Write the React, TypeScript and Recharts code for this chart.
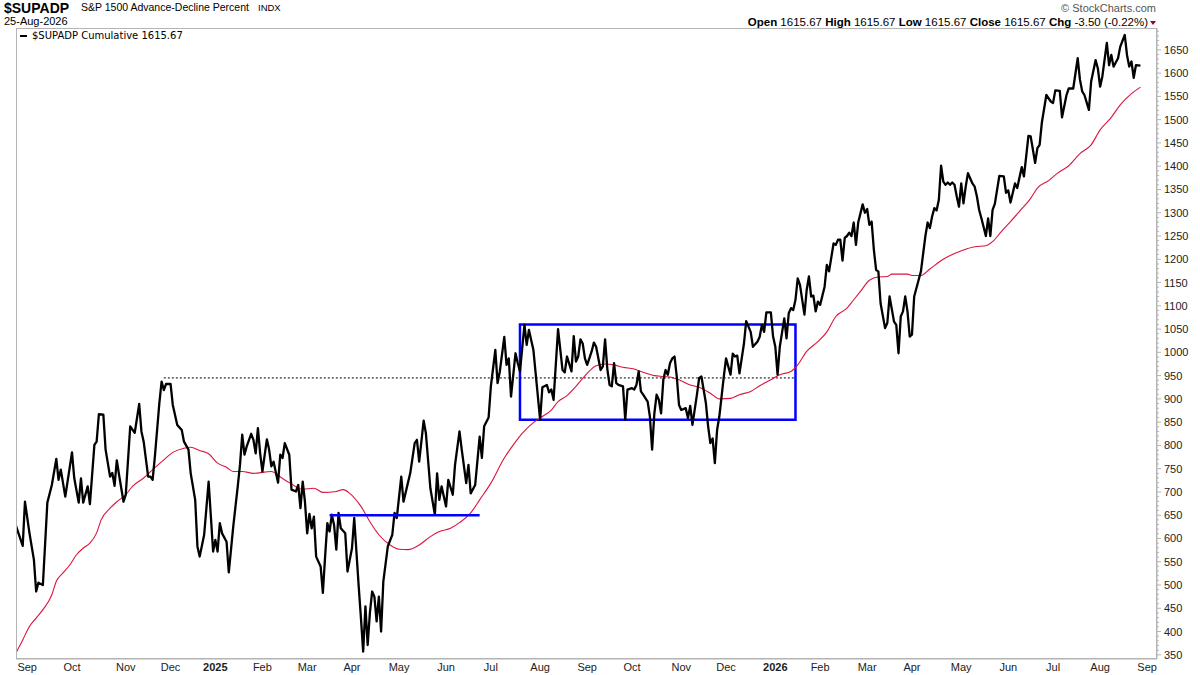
import React from 'react'
import { LineChart, Line, XAxis, YAxis, ReferenceArea, ReferenceLine } from 'recharts'

// trading-day index (0 = 23-Aug-2024) and cumulative A-D percent value
const cumulativePoints: [number, number][] = [
    [0, 627], [3, 584], [4, 679], [6, 612], [8, 554], [9, 486], [10, 505], [12, 500], [14, 677], [16, 715],
    [18, 771], [19, 726], [20, 748], [22, 690], [25, 785], [26, 730], [28, 677], [29, 729], [30, 677], [32, 712],
    [33, 674], [35, 801], [36, 808], [37, 867], [39, 866], [40, 791], [42, 733], [43, 741], [44, 713], [45, 768],
    [46, 737], [48, 679], [49, 694], [51, 841], [53, 827], [55, 889], [56, 830], [57, 808], [59, 733], [60, 733],
    [61, 726], [62, 776], [64, 891], [65, 937], [66, 919], [67, 932], [69, 932], [70, 887], [72, 844], [74, 833],
    [75, 808], [77, 791], [78, 740], [80, 683], [81, 583], [82, 561], [84, 608], [86, 722], [88, 572], [89, 597],
    [90, 572], [91, 633], [92, 611], [94, 593], [95, 527], [97, 626], [99, 712], [100, 758], [101, 823], [102, 780],
    [103, 798], [105, 825], [106, 812], [107, 783], [108, 837], [109, 783], [110, 744], [112, 813], [113, 791], [114, 755],
    [115, 765], [117, 720], [118, 780], [119, 773], [120, 805], [122, 780], [123, 705], [125, 701], [126, 715], [127, 665],
    [128, 722], [129, 679], [130, 611], [131, 653], [132, 622], [133, 647], [134, 561], [136, 540], [137, 483], [138, 561],
    [139, 633], [140, 615], [141, 651], [142, 629], [143, 576], [144, 655], [145, 622], [147, 611], [148, 529], [149, 554],
    [150, 579], [151, 644], [153, 497], [154, 429], [155, 357], [156, 454], [157, 371], [158, 440], [159, 486], [160, 475],
    [161, 422], [162, 475], [163, 400], [164, 508], [166, 583], [168, 608], [169, 655], [170, 644], [172, 733], [173, 679],
    [175, 720], [176, 740], [178, 805], [179, 812], [180, 765], [182, 853], [183, 826], [185, 708], [187, 651], [188, 740],
    [189, 683], [190, 712], [191, 690], [192, 669], [193, 726], [195, 694], [196, 758], [198, 830], [199, 791], [201, 719],
    [202, 758], [203, 697], [205, 715], [207, 819], [208, 773], [209, 841], [211, 860], [212, 927], [214, 1005], [215, 934],
    [216, 959], [218, 1033], [219, 973], [220, 987], [221, 905], [223, 998], [224, 977], [225, 959], [227, 1059], [228, 1016],
    [229, 1048], [231, 1005], [232, 955], [234, 855], [235, 925], [237, 930], [238, 914], [239, 920], [240, 898], [242, 1050],
    [244, 962], [245, 957], [246, 991], [248, 959], [249, 1035], [250, 980], [251, 991], [252, 1028], [253, 1019], [254, 987],
    [255, 973], [257, 1002], [258, 1021], [259, 1012], [261, 962], [262, 970], [263, 1028], [264, 964], [265, 930], [266, 927],
    [267, 977], [268, 934], [269, 930], [271, 927], [272, 855], [273, 920], [275, 923], [276, 920], [277, 930], [278, 959],
    [279, 916], [280, 909], [282, 894], [283, 862], [284, 791], [285, 869], [286, 909], [287, 898], [288, 869], [289, 941],
    [290, 962], [291, 952], [292, 977], [293, 987], [294, 991], [295, 948], [296, 887], [297, 876], [299, 880], [300, 859],
    [301, 885], [302, 844], [304, 909], [305, 945], [306, 948], [308, 891], [309, 841], [310, 805], [311, 815], [312, 762],
    [313, 833], [314, 862], [316, 948], [317, 987], [319, 952], [320, 997], [321, 991], [322, 993], [323, 955], [325, 1019],
    [326, 1067], [328, 1044], [329, 1012], [331, 1023], [332, 1033], [333, 1059], [334, 1044], [335, 1086], [337, 1086], [338, 1034],
    [339, 1012], [340, 952], [341, 1012], [343, 1073], [344, 1030], [345, 1084], [346, 1095], [347, 1091], [348, 1113], [349, 1159],
    [350, 1145], [352, 1081], [353, 1134], [354, 1163], [355, 1120], [356, 1122], [357, 1088], [358, 1109], [359, 1102], [361, 1141],
    [362, 1188], [363, 1174], [365, 1234], [366, 1231], [367, 1242], [368, 1242], [369, 1197], [370, 1246], [371, 1250], [372, 1257],
    [373, 1250], [374, 1279], [375, 1231], [376, 1279], [378, 1318], [379, 1300], [380, 1308], [381, 1274], [382, 1281], [383, 1220],
    [384, 1177], [385, 1174], [386, 1105], [388, 1052], [389, 1063], [390, 1120], [392, 1066], [393, 1059], [394, 998], [395, 1077],
    [396, 1088], [397, 1120], [398, 1088], [399, 1034], [400, 1038], [401, 1120], [403, 1156], [404, 1174], [406, 1250], [407, 1279],
    [408, 1267], [409, 1292], [410, 1310], [411, 1305], [412, 1328], [413, 1401], [414, 1367], [415, 1360], [416, 1365], [417, 1360],
    [418, 1365], [419, 1360], [420, 1335], [421, 1313], [422, 1363], [423, 1320], [424, 1356], [425, 1385], [427, 1363], [428, 1356],
    [429, 1335], [430, 1306], [431, 1288], [433, 1250], [434, 1288], [435, 1250], [436, 1306], [437, 1319], [439, 1379], [441, 1378],
    [442, 1343], [443, 1348], [444, 1322], [446, 1363], [447, 1353], [449, 1398], [450, 1378], [451, 1421], [452, 1465], [453, 1464],
    [455, 1407], [456, 1439], [457, 1446], [458, 1494], [460, 1553], [462, 1539], [463, 1536], [464, 1563], [466, 1562], [467, 1505],
    [469, 1553], [470, 1567], [472, 1567], [474, 1632], [475, 1586], [476, 1561], [477, 1553], [479, 1521], [480, 1582], [482, 1628],
    [483, 1610], [484, 1571], [485, 1593], [487, 1665], [488, 1617], [489, 1639], [490, 1614], [492, 1632], [493, 1657], [495, 1682],
    [496, 1639], [497, 1614], [498, 1625], [499, 1590], [500, 1617], [502, 1616],
]

// moving average overlay
const averagePoints: [number, number][] = [
    [0, 354], [3, 382], [6, 411], [9, 429], [12, 447], [16, 479], [18, 508], [21, 526], [24, 543], [27, 565],
    [30, 579], [33, 590], [36, 612], [38, 640], [42, 665], [45, 679], [49, 694], [52, 712], [57, 730], [61, 748],
    [66, 769], [70, 785], [75, 794], [78, 796], [82, 789], [86, 782], [90, 762], [94, 753], [97, 744], [101, 744],
    [106, 740], [114, 744], [118, 732], [122, 720], [128, 706], [133, 708], [137, 699], [143, 701], [146, 705], [149, 697],
    [154, 669], [158, 636], [162, 608], [167, 586], [171, 577], [175, 576], [180, 586], [185, 604], [189, 615], [194, 622],
    [198, 634], [203, 655], [207, 683], [212, 719], [218, 773], [222, 801], [226, 826], [231, 849], [235, 862], [239, 876],
    [242, 894], [246, 907], [250, 927], [255, 955], [259, 971], [263, 975], [267, 973], [271, 968], [276, 964], [280, 957],
    [285, 950], [289, 948], [293, 946], [296, 941], [301, 930], [305, 925], [310, 912], [314, 900], [319, 901], [323, 909],
    [328, 916], [332, 928], [337, 941], [341, 952], [346, 959], [349, 973], [353, 1002], [358, 1023], [362, 1044], [366, 1077],
    [371, 1095], [374, 1113], [377, 1131], [381, 1155], [385, 1162], [389, 1163], [391, 1168], [398, 1168], [400, 1165], [404, 1165],
    [408, 1179], [414, 1200], [418, 1210], [423, 1220], [428, 1227], [433, 1229], [436, 1238], [440, 1260], [444, 1281], [448, 1303],
    [453, 1331], [456, 1353], [461, 1369], [465, 1385], [470, 1401], [475, 1427], [480, 1446], [484, 1478], [489, 1505], [493, 1532],
    [498, 1556], [502, 1570],
]

const monthTickDays = [5, 25, 49, 69, 89, 110, 130, 150, 171, 192, 212, 234, 255, 275, 297, 317, 339, 359, 380, 400, 422, 443, 463, 484, 505]
const monthLabels = ['Sep', 'Oct', 'Nov', 'Dec', '2025', 'Feb', 'Mar', 'Apr', 'May', 'Jun', 'Jul', 'Aug',
    'Sep', 'Oct', 'Nov', 'Dec', '2026', 'Feb', 'Mar', 'Apr', 'May', 'Jun', 'Jul', 'Aug', 'Sep']
const priceLabels = [350, 400, 450, 500, 550, 600, 650, 700, 750, 800, 850, 900, 950, 1000, 1050, 1100, 1150,
    1200, 1250, 1300, 1350, 1400, 1450, 1500, 1550, 1600, 1650]

// annotations drawn on the chart
const rangeBox = { fromDay: 225, toDay: 348, low: 855, high: 1060 }
const breakoutLine = { fromDay: 140, toDay: 207, level: 650 }
const priorHigh = { fromDay: 66, toDay: 348, level: 945 }

const cumulativeData = cumulativePoints.map(([day, value]) => ({ day, value }))
const averageData = averagePoints.map(([day, value]) => ({ day, value }))

const priceTicks: number[] = []
for (let v = 350; v <= 1690; v += 10) priceTicks.push(v)

const X_DOMAIN: [number, number] = [0, 509.4]
const FRAME = '#b4b4b4'
const SANS = '"Liberation Sans", Arial, sans-serif'

const PriceTick = (props: any) => {
    const { x, y, payload } = props
    const major = priceLabels.includes(payload.value)
    return (
        <g>
            <line x1={x} y1={y} x2={x + (major ? 4 : 2)} y2={y} stroke={FRAME} />
            {major && (
                <text x={x + 7} y={y + 4} fontSize={11} fill="#222" fontFamily={SANS}>{payload.value}</text>
            )}
        </g>
    )
}

const MonthTick = (props: any) => {
    const { x, y, payload } = props
    const label = monthLabels[monthTickDays.indexOf(payload.value)]
    const isYear = /^\d{4}$/.test(label)
    return (
        <text x={x} y={y + 12} textAnchor="middle" fontSize={11} fill="#222"
            fontWeight={isYear ? 'bold' : 'normal'} fontFamily={SANS}>{label}</text>
    )
}

const Header = () => (
    <svg width={1200} height={675} style={{ position: 'absolute', left: 0, top: 0, pointerEvents: 'none' }}>
        <rect x={16.5} y={28.5} width={1140} height={630} fill="none" stroke={FRAME} />
        <text x={4} y={13} fontFamily={SANS} fontSize={14} fontWeight="bold" fill="#000">$SUPADP</text>
        <text x={81} y={11} fontFamily={SANS} fontSize={10.5} fill="#000">S&amp;P 1500 Advance-Decline Percent</text>
        <text x={258} y={11} fontFamily={SANS} fontSize={9.5} fill="#000">INDX</text>
        <text x={4} y={25} fontFamily={SANS} fontSize={11} fill="#000">25-Aug-2026</text>
        <text x={1156} y={12} textAnchor="end" fontFamily={SANS} fontSize={11} fill="#555">© StockCharts.com</text>
        <text x={1148} y={26} textAnchor="end" fontFamily={SANS} fontSize={11.5} fill="#000">
            <tspan fontWeight="bold">Open</tspan> 1615.67  <tspan fontWeight="bold">High</tspan> 1615.67  <tspan fontWeight="bold">Low</tspan> 1615.67  <tspan fontWeight="bold">Close</tspan> 1615.67  <tspan fontWeight="bold">Chg</tspan> -3.50 (-0.22%)
        </text>
        <polygon points="1150,21 1156,21 1153,25" fill="#8b0a2a" />
        <line x1={20} y1={36} x2={27} y2={36} stroke="#000" strokeWidth={2} />
        <text x={32} y={39} fontFamily='"DejaVu Sans", Verdana, sans-serif' fontSize={10} fill="#000">$SUPADP Cumulative 1615.67</text>
    </svg>
)

const App = () => {
    return (
        <div style={{ position: 'absolute', left: 0, top: 0, width: 1200, height: 675, background: '#fff' }}>
            <LineChart width={1200} height={675} margin={{ top: 28, right: 0, bottom: 0, left: 16 }}>
                <XAxis dataKey="day" type="number" domain={X_DOMAIN} allowDataOverflow ticks={monthTickDays}
                    interval={0} tick={<MonthTick />} tickLine={false} tickSize={0} tickMargin={0}
                    height={16} axisLine={{ stroke: FRAME }} />
                <YAxis orientation="right" type="number" domain={[341, 1697]} allowDataOverflow ticks={priceTicks}
                    interval={0} tick={<PriceTick />} tickLine={false} tickSize={0} tickMargin={0}
                    width={43} axisLine={{ stroke: FRAME }} />
                <ReferenceLine segment={[{ x: priorHigh.fromDay, y: priorHigh.level }, { x: priorHigh.toDay, y: priorHigh.level }]}
                    stroke="#000" strokeWidth={1} strokeDasharray="2 2" />
                <Line data={averageData} dataKey="value" type="monotone" stroke="#dc143c" strokeWidth={1.1}
                    dot={false} isAnimationActive={false} />
                <Line data={cumulativeData} dataKey="value" type="linear" stroke="#000" strokeWidth={2.3}
                    dot={false} isAnimationActive={false} strokeLinejoin="round" />
                <ReferenceArea x1={rangeBox.fromDay} x2={rangeBox.toDay} y1={rangeBox.low} y2={rangeBox.high}
                    fill="none" fillOpacity={0} stroke="#0000ff" strokeWidth={2.5} />
                <ReferenceLine segment={[{ x: breakoutLine.fromDay, y: breakoutLine.level }, { x: breakoutLine.toDay, y: breakoutLine.level }]}
                    stroke="#0000ff" strokeWidth={2.5} />
            </LineChart>
            <Header />
        </div>
    )
}

export default App
